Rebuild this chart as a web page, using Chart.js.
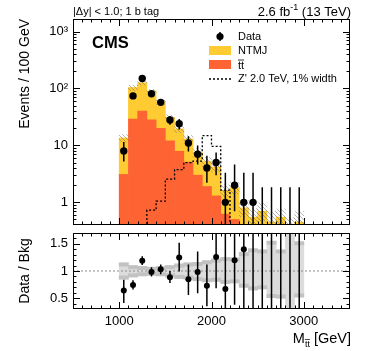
<!DOCTYPE html>
<html>
<head>
<meta charset="utf-8">
<script src="https://cdn.jsdelivr.net/npm/chart.js@4.4.0/dist/chart.umd.min.js"></script>
<style>
  body { margin: 0; background: #fff; }
  #wrap { position: relative; width: 374px; height: 351px; }
  #top-box { position: absolute; left: 0; top: 0; width: 374px; height: 229px; }
  #bottom-box { position: absolute; left: 0; top: 229px; width: 374px; height: 122px; }
</style>
</head>
<body>
<div id="wrap">
  <div id="top-box"><canvas id="mass-plot"></canvas></div>
  <div id="bottom-box"><canvas id="ratio-plot"></canvas></div>
</div>
<script>
// 100 GeV bins, 1000 - 3000 GeV
const binWidth = 100;
const binCenters = [1050, 1150, 1250, 1350, 1450, 1550, 1650, 1750, 1850, 1950,
                    2050, 2150, 2250, 2350, 2450, 2550, 2650, 2750, 2850, 2950];

// Background stack (events per bin)
const ttbar = [3.1, 29, 40, 28, 20, 12, 7.9, 5.1, 3.0, 1.9, 1.3, 0.62, 0.5, 0.3, 0.25, 0.2, 0.15, 0.1, 0.1, 0.1];
const ntmj  = [10.4, 75, 86, 62, 38, 19, 11.6, 7.9, 4.6, 3.3, 2.9, 1.0, 1.3, 0.5, 0.3, 0.5, 0.3, 0.45, 0.2, 0.35];

// Z' 2.0 TeV signal
const zprime = [0, 0, 0, 0.73, 1.05, 2.55, 3.75, 5.0, 5.3, 14.9, 9.6, 1.64, 0, 0, 0, 0, 0, 0, 0, 0];

// Data with error bar ends
const dataCounts = [8, 74, 150, 81, 57, 28, 24, 11, 7, 4, 5, 1, 2, 1, 1, null, null, null, null, null];
const dataLow  = [5.2, 65, 138, 72, 50, 23, 19, 7.8, 4.6, 2.2, 3.0, 0.17, 0.7, 0.17, 0.17, 0, 0, 0, 0, 0];
const dataHigh = [11.5, 83, 162, 90, 65, 33, 29, 14.5, 10, 6.6, 7.5, 3.3, 4.6, 3.3, 3.3, 1.84, 1.84, 1.84, 1.84, 1.84];

// Ratio panel
const ratioVals = [0.64, 0.74, 1.19, 0.98, 1.03, 0.885, 1.25, 0.85, 0.98, 0.73, 1.26, 0.67, 1.2, 1.4, null, null, null, null, null, null];
const ratioLow  = [0.41, 0.66, 1.11, 0.90, 0.94, 0.78, 0.99, 0.56, 0.59, 0.35, 0.68, 0.1, 0.38, 0.25, 0.3, 0, 0, 0, 0, 0];
const ratioHigh = [0.84, 0.83, 1.27, 1.07, 1.12, 1.0, 1.52, 1.12, 1.36, 1.12, 1.9, 2.2, 2.7, 4.6, 6, 4, 4, 4, 4, 4];
const bandLow  = [0.85, 0.89, 0.91, 0.92, 0.91, 0.89, 0.86, 0.85, 0.82, 0.80, 0.81, 0.77, 0.78, 0.70, 0.65, 0.67, 0.51, 0.50, 0.2, 0.52];
const bandHigh = [1.15, 1.10, 1.085, 1.07, 1.08, 1.10, 1.13, 1.15, 1.16, 1.19, 1.22, 1.25, 1.24, 1.34, 1.41, 1.39, 1.55, 1.39, 1.8, 1.54];
const stripSize = 0.06;

// Axis tick labels
const massTickVals = [1, 10, 100, 1000];
const massTickText = ['1', '10', '10²', '10³'];
const ratioTickVals = [0.5, 1, 1.5];
const ratioTickText = ['0.5', '1', '1.5'];
const xTickVals = [1000, 2000, 3000];

const FONT = "'Liberation Sans', Arial, Helvetica, sans-serif";
Chart.defaults.font.family = FONT;
Chart.defaults.color = '#000';
Chart.defaults.animation = false;

const yellow = '#fecb32';
const orange = '#fe6433';

// hatch for background uncertainty
function makeHatch() {
    const c = document.createElement('canvas');
    c.width = 4; c.height = 4;
    const g = c.getContext('2d');
    g.strokeStyle = 'rgba(110,110,110,0.5)';
    g.lineWidth = 1;
    g.beginPath();
    g.moveTo(0, 0); g.lineTo(4, 4);
    g.stroke();
    return g.createPattern(c, 'repeat');
}

const totals = ttbar.map((v, i) => v + ntmj[i]);

// kill the automatic label padding so the plot areas sit where we want
function noPad(s) {
    s.paddingTop = 0; s.paddingBottom = 0;
    s.paddingLeft = 0; s.paddingRight = 0;
}

// Frame with inward ticks on all sides
function framePlugin(yTicks) {
    return {
        id: 'frame',
        afterDraw(chart) {
            const {ctx, chartArea: a, scales: {x, y}} = chart;
            ctx.save();
            ctx.strokeStyle = '#000';
            ctx.lineWidth = 1;
            ctx.beginPath();
            for (let v = 600; v < 3500; v += 100) {
                const px = Math.round(x.getPixelForValue(v)) + 0.5;
                const len = v % 1000 === 0 ? 7 : 3.5;
                ctx.moveTo(px, a.bottom); ctx.lineTo(px, a.bottom - len);
                ctx.moveTo(px, a.top); ctx.lineTo(px, a.top + len);
            }
            yTicks.forEach(([v, major]) => {
                const py = Math.round(y.getPixelForValue(v)) + 0.5;
                if (py < a.top || py > a.bottom) return;
                const len = major ? 7 : 3.5;
                ctx.moveTo(a.left, py); ctx.lineTo(a.left + len, py);
                ctx.moveTo(a.right, py); ctx.lineTo(a.right - len, py);
            });
            ctx.stroke();
            ctx.strokeRect(a.left + 0.5, a.top + 0.5, a.width - 1, a.height - 1);
            ctx.restore();
        }
    };
}

function errorBarPlugin(lows, highs) {
    return {
        id: 'errorbars',
        afterDatasetsDraw(chart) {
            const {ctx, chartArea: a, scales: {x, y}} = chart;
            ctx.save();
            ctx.beginPath();
            ctx.rect(a.left, a.top, a.width, a.height);
            ctx.clip();
            ctx.strokeStyle = '#000';
            ctx.lineWidth = 1.5;
            ctx.beginPath();
            binCenters.forEach((c, i) => {
                const px = x.getPixelForValue(c);
                const y1 = lows[i] > 0 ? y.getPixelForValue(lows[i]) : a.bottom + 2;
                const y2 = y.getPixelForValue(highs[i]);
                ctx.moveTo(px, y1);
                ctx.lineTo(px, y2);
            });
            ctx.stroke();
            ctx.restore();
        }
    };
}

const logTicks = [];
[0.1, 1, 10, 100, 1000].forEach(d => {
    for (let m = 1; m < 10; m++) logTicks.push([m * d, m === 1]);
});
const ratioTicks = [];
for (let k = 3; k <= 17; k++) ratioTicks.push([k / 10, k % 5 === 0]);

const labelsPlugin = {
    id: 'labels',
    afterDraw(chart) {
        const ctx = chart.ctx;
        ctx.save();
        ctx.fillStyle = '#000';
        ctx.textBaseline = 'alphabetic';

        ctx.font = `11px ${FONT}`;
        ctx.textAlign = 'left';
        ctx.fillText('|Δy| < 1.0; 1 b tag', 73, 15);

        // lumi label, right aligned
        ctx.font = `13px ${FONT}`;
        const a1 = '2.6 fb', a2 = ' (13 TeV)';
        const w1 = ctx.measureText(a1).width, w3 = ctx.measureText(a2).width;
        ctx.font = `9px ${FONT}`;
        const w2 = ctx.measureText('-1').width;
        let xx = 351 - w1 - w2 - w3;
        ctx.font = `13px ${FONT}`;
        ctx.fillText(a1, xx, 16);
        ctx.font = `9px ${FONT}`;
        ctx.fillText('-1', xx + w1, 10);
        ctx.font = `13px ${FONT}`;
        ctx.fillText(a2, xx + w1 + w2, 16);

        ctx.font = `bold 16.5px ${FONT}`;
        ctx.fillText('CMS', 92, 48);

        // legend
        ctx.font = `11px ${FONT}`;
        ctx.textBaseline = 'middle';
        const tx = 238;
        ctx.beginPath();
        ctx.arc(220, 36.5, 3.6, 0, Math.PI * 2);
        ctx.fill();
        ctx.lineWidth = 1.5;
        ctx.beginPath();
        ctx.moveTo(220, 32); ctx.lineTo(220, 41);
        ctx.stroke();
        ctx.fillText('Data', tx, 36.5);

        ctx.fillStyle = yellow;
        ctx.fillRect(209, 46, 22, 9);
        ctx.fillStyle = '#000';
        ctx.fillText('NTMJ', tx, 51);

        ctx.fillStyle = orange;
        ctx.fillRect(209, 60, 22, 9);
        ctx.fillStyle = '#000';
        ctx.fillText('tt', tx, 65.5);
        const wtt = ctx.measureText('tt').width;
        ctx.lineWidth = 0.8;
        ctx.beginPath();
        ctx.moveTo(tx, 60); ctx.lineTo(tx + wtt, 60);
        ctx.stroke();

        ctx.lineWidth = 1.3;
        ctx.setLineDash([2, 2]);
        ctx.beginPath();
        ctx.moveTo(209, 79); ctx.lineTo(231, 79);
        ctx.stroke();
        ctx.setLineDash([]);
        ctx.fillText("Z' 2.0 TeV, 1% width", tx, 79);
        ctx.restore();
    }
};

const xTitlePlugin = {
    id: 'xtitle',
    afterDraw(chart) {
        const ctx = chart.ctx;
        ctx.save();
        ctx.fillStyle = '#000';
        ctx.strokeStyle = '#000';
        ctx.textBaseline = 'alphabetic';
        ctx.font = `14.5px ${FONT}`;
        const m = 'M', rest = ' [GeV]';
        const wm = ctx.measureText(m).width, wr = ctx.measureText(rest).width;
        ctx.font = `9px ${FONT}`;
        const ws = ctx.measureText('tt').width;
        const baseY = 114;
        let xx = 351 - wm - ws - wr;
        ctx.font = `14.5px ${FONT}`;
        ctx.fillText(m, xx, baseY);
        ctx.font = `9px ${FONT}`;
        ctx.fillText('tt', xx + wm, baseY + 4);
        ctx.lineWidth = 0.7;
        ctx.beginPath();
        ctx.moveTo(xx + wm, baseY - 3.5); ctx.lineTo(xx + wm + ws, baseY - 3.5);
        ctx.stroke();
        ctx.font = `14.5px ${FONT}`;
        ctx.fillText(rest, xx + wm + ws, baseY);
        ctx.restore();
    }
};

// signal as a step line over bin edges
const floorVal = 0.01;
const zpPoints = binCenters.map((c, i) => ({x: c - binWidth / 2, y: zprime[i] > 0 ? zprime[i] : floorVal}));
zpPoints.push({x: binCenters[binCenters.length - 1] + binWidth / 2, y: floorVal});

const barStyle = { barPercentage: 1, categoryPercentage: 1, grouped: false, borderWidth: 0 };

// note: stacking follows "order", so ttbar (lower order) sits at the bottom
const massChart = new Chart(document.getElementById('mass-plot'), {
    type: 'bar',
    data: {
        datasets: [
            {
                type: 'line',
                label: 'Data',
                data: binCenters.map((c, i) => ({x: c, y: dataCounts[i]})),
                showLine: false,
                pointRadius: 3.7,
                pointBackgroundColor: '#000',
                pointBorderWidth: 0,
                order: 0
            },
            {
                type: 'line',
                label: "Z'",
                data: zpPoints,
                stepped: 'before',
                borderColor: '#000',
                borderWidth: 1.3,
                borderDash: [2, 2],
                pointRadius: 0,
                fill: false,
                order: 1
            },
            {
                label: 'unc',
                data: binCenters.map((c, i) => ({x: c, y: [totals[i] * bandLow[i], totals[i] * bandHigh[i]]})),
                backgroundColor: makeHatch(),
                stack: 'unc',
                ...barStyle,
                order: 2
            },
            {
                label: 'ttbar',
                data: binCenters.map((c, i) => ({x: c, y: ttbar[i]})),
                backgroundColor: orange,
                stack: 'bkg',
                ...barStyle,
                order: 3
            },
            {
                label: 'NTMJ',
                data: binCenters.map((c, i) => ({x: c, y: ntmj[i]})),
                backgroundColor: yellow,
                stack: 'bkg',
                ...barStyle,
                order: 4
            }
        ]
    },
    options: {
        responsive: true,
        maintainAspectRatio: false,
        layout: { padding: { top: 19, right: 24, bottom: 2, left: 0 } },
        plugins: { legend: { display: false }, tooltip: { enabled: false } },
        scales: {
            x: { type: 'linear', min: 500, max: 3500, display: false, stacked: true, offset: false },
            y: {
                type: 'logarithmic',
                min: 0.4,
                max: 1660,
                stacked: true,
                afterFit: s => { s.width = 73; noPad(s); },
                afterBuildTicks: s => { s.ticks = massTickVals.map(v => ({value: v})); },
                ticks: {
                    callback: v => massTickText[massTickVals.indexOf(v)] ?? '',
                    padding: 5,
                    font: { size: 13 }
                },
                grid: { display: false, drawTicks: false },
                border: { display: false },
                title: {
                    display: true,
                    text: 'Events / 100 GeV',
                    align: 'end',
                    font: { size: 14 },
                    padding: { top: 17 }
                }
            }
        }
    },
    plugins: [errorBarPlugin(dataLow, dataHigh), framePlugin(logTicks), labelsPlugin]
});

const ratioChart = new Chart(document.getElementById('ratio-plot'), {
    type: 'bar',
    data: {
        datasets: [
            {
                type: 'line',
                label: 'ratio',
                data: binCenters.map((c, i) => ({x: c, y: ratioVals[i]})),
                showLine: false,
                pointRadius: 3,
                pointBackgroundColor: '#000',
                pointBorderWidth: 0,
                order: 0
            },
            {
                type: 'line',
                label: 'one',
                data: [{x: 500, y: 1}, {x: 3500, y: 1}],
                borderColor: '#8a8a8a',
                borderWidth: 1,
                borderDash: [2, 2],
                pointRadius: 0,
                order: 1
            },
            {
                label: 'strip-up',
                data: binCenters.map((c, i) => ({x: c, y: [bandHigh[i] - stripSize, bandHigh[i]]})),
                backgroundColor: '#c2c2c2',
                ...barStyle,
                order: 2
            },
            {
                label: 'strip-down',
                data: binCenters.map((c, i) => ({x: c, y: [bandLow[i], bandLow[i] + stripSize]})),
                backgroundColor: '#c2c2c2',
                ...barStyle,
                order: 2
            },
            {
                label: 'band',
                data: binCenters.map((c, i) => ({x: c, y: [bandLow[i], bandHigh[i]]})),
                backgroundColor: '#dcdcdc',
                ...barStyle,
                order: 3
            }
        ]
    },
    options: {
        responsive: true,
        maintainAspectRatio: false,
        layout: { padding: { top: 1, right: 24, bottom: 0, left: 0 } },
        plugins: { legend: { display: false }, tooltip: { enabled: false } },
        scales: {
            x: {
                type: 'linear',
                min: 500,
                max: 3500,
                offset: false,
                afterFit: s => { s.height = 42; noPad(s); },
                afterBuildTicks: s => { s.ticks = xTickVals.map(v => ({value: v})); },
                ticks: { callback: v => String(v), padding: 5, font: { size: 13 }, maxRotation: 0 },
                grid: { display: false, drawTicks: false },
                border: { display: false }
            },
            y: {
                type: 'linear',
                min: 0.3,
                max: 1.7,
                afterFit: s => { s.width = 73; noPad(s); },
                afterBuildTicks: s => { s.ticks = ratioTickVals.map(v => ({value: v})); },
                ticks: {
                    callback: v => ratioTickText[ratioTickVals.indexOf(v)] ?? '',
                    padding: 5,
                    font: { size: 13 }
                },
                grid: { display: false, drawTicks: false },
                border: { display: false },
                title: {
                    display: true,
                    text: 'Data / Bkg',
                    font: { size: 14 },
                    padding: { top: 17 }
                }
            }
        }
    },
    plugins: [errorBarPlugin(ratioLow, ratioHigh), framePlugin(ratioTicks), xTitlePlugin]
});
</script>
</body>
</html>
